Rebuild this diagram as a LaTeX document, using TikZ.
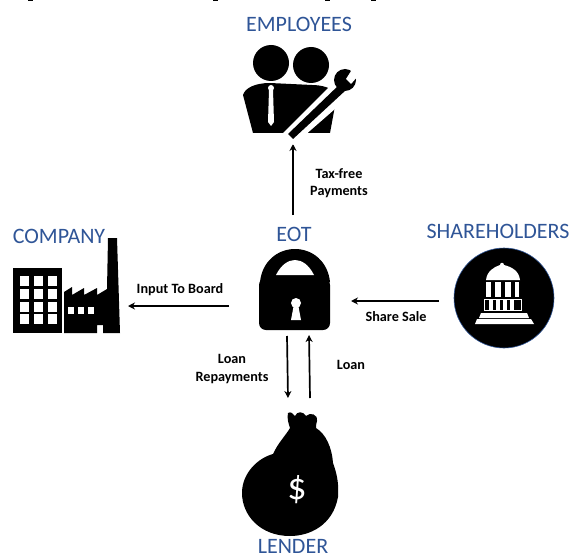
\documentclass[tikz,border=0pt]{standalone}
\usepackage{fontspec}
\setmainfont{Carlito}
\usetikzlibrary{arrows.meta}
\definecolor{headblue}{RGB}{47,85,151}
\tikzset{
  head/.style={text=headblue, font=\fontsize{22}{24}\selectfont, inner sep=0pt},
  flowlabel/.style={font=\fontsize{14.2}{17.5}\selectfont\bfseries, align=center, inner sep=0pt},
  flow/.style={line width=1.7pt, -{Stealth[length=7pt,width=7pt]}},
  icon/.style={fill=black, draw=none},
  cutout/.style={fill=white, draw=none},
}
\begin{document}
\begin{tikzpicture}[x=1pt, y=-1pt]
   \useasboundingbox (0,0) rectangle (569,556);

   % labels
   \node[head] (employees) at (299,24) {EMPLOYEES};
   \node[head] (company) at (59,236) {COMPANY};
   \node[head] (eot) at (294,234) {EOT};
   \node[head] (shareholders) at (498,231) {SHAREHOLDERS};
   \node[head, anchor=base] (lender) at (293,553) {LENDER};

   \node[flowlabel] (taxfree) at (339,183) {Tax-free\\Payments};
   \node[flowlabel] (board) at (180,290) {Input To Board};
   \node[flowlabel] (sharesale) at (396,317) {Share Sale};
   \node[flowlabel] (repay) at (232,369) {Loan\\Repayments};
   \node[flowlabel] (loan) at (351,365) {Loan};

   % connector ends
   \coordinate (e1) at (293,215);
   \coordinate (e2) at (293,144);
   \coordinate (b1) at (229,306);
   \coordinate (b2) at (128,306);
   \coordinate (s1) at (439,301);
   \coordinate (s2) at (351,301);
   \coordinate (r1) at (287,336);
   \coordinate (r2) at (288,398);
   \coordinate (l1) at (310,398);
   \coordinate (l2) at (309,335);

   % arrows
   \draw[flow] (e1) -- (e2);
   \draw[flow] (b1) -- (b2);
   \draw[flow] (s1) -- (s2);
   \draw[flow] (r1) -- (r2);
   \draw[flow] (l1) -- (l2);

   % marks along the top edge
   \foreach \px in {30,215,327,373} \fill[icon] (\px-2.5,0) rectangle ++(5,1.5);

   % employees
   \fill[icon] (271,63) circle (18);
   \fill[icon] (311,65) circle (18);
   \fill[icon] (243,95) .. controls (245,88) and (255,83) .. (270,83) -- (312,85)
      .. controls (322,85) and (333,88) .. (337,95) -- (330,133) -- (253,133) -- cycle;
   \fill[cutout] (271,88) circle (3) (269,90) -- (273,90) -- (274,122) -- (271,126) -- (268,122) -- cycle;
   \fill[cutout] (283,133) -- (336,80) -- (351,95) -- (296,143) -- (293,145) -- cycle;
   \fill[icon] (288,134) -- (340,84) -- (346,90) -- (293,139) -- cycle;
   \fill[icon] (345,80) circle (11);
   \fill[cutout] (346,79) -- (352,69.5) -- (358,76) -- (351,84) -- cycle;

   % lock
   \fill[icon] (260,282) .. controls (262,262) and (277,249) .. (295,249) .. controls (313,249) and (328,262) .. (330,282) -- cycle;
   \fill[cutout] (276,275) .. controls (281,265) and (288,260) .. (295,260) .. controls (302,260) and (309,265) .. (314,275) -- cycle;
   \fill[icon, rounded corners=7pt] (259,278) -- (330,278) -- (330,330) -- (259,330) -- cycle;
   \fill[cutout] (296,303) circle (5);
   \fill[cutout] (294,304) -- (298,304) -- (301,320) -- (291,320) -- cycle;

   % shareholders
   \fill[icon, draw=headblue, line width=0.6pt] (504,298) circle (50);
   \fill[cutout] (486,280) .. controls (487,271) and (494,267) .. (500,265) .. controls (500,262) and (504,262) .. (504,265)
      .. controls (512,267) and (519,271) .. (520,280) -- cycle;
   \fill[cutout] (486,282) rectangle (491,297);
   \fill[cutout] (495,282) rectangle (501,297);
   \fill[cutout] (505,282) rectangle (511,297);
   \fill[cutout] (515,282) rectangle (519,297);
   \draw[white, line width=0.7pt] (484.5,299.5) rectangle (521.5,310.5);
   \foreach \px in {491,498,505,512} \fill[cutout] (\px-2,299.5) rectangle ++(3.5,11);
   \fill[cutout] (481,313) -- (527,313) -- (529,318) -- (479,318) -- cycle;
   \fill[cutout] (477,319) -- (531,319) -- (534,324) -- (475,324) -- cycle;

   % factory
   \fill[icon] (13,268) rectangle (62,333);
   \foreach \px in {20,34,48} \foreach \py in {276,289,302,314}
     \fill[cutout] (\px,\py) rectangle ++(9,10);
   \fill[icon] (64,333) -- (64,292) -- (72,287) -- (72,295) -- (84,288) -- (84,295) -- (97,288) -- (97,295)
     -- (107,289) -- (108,238) -- (117,238) -- (120,333) -- (103,333) -- (103,325) -- (97,325) -- (97,333) -- cycle;
   \foreach \px in {68,78,88} \fill[cutout] (\px,307) rectangle ++(6,7);

   % lender
   \fill[icon] (288,413) .. controls (291,411) and (293,414) .. (295,416) .. controls (297,411) and (303,411) .. (306,416)
     .. controls (310,412) and (318,414) .. (317,421) .. controls (316,424) and (316,426) .. (316,428)
     .. controls (326,434) and (332,448) .. (333,463) .. controls (337,474) and (339,484) .. (338,497)
     .. controls (333,525) and (310,536) .. (290,536) .. controls (260,536) and (242,515) .. (242,493)
     .. controls (242,473) and (258,458) .. (273,454) .. controls (278,443) and (286,435) .. (290,428)
     .. controls (288,422) and (287,418) .. (288,413) -- cycle;
   \node[text=white, font=\fontsize{38}{38}\selectfont, inner sep=0pt] (dollar) at (297,490) {\$};
\end{tikzpicture}
\end{document}
